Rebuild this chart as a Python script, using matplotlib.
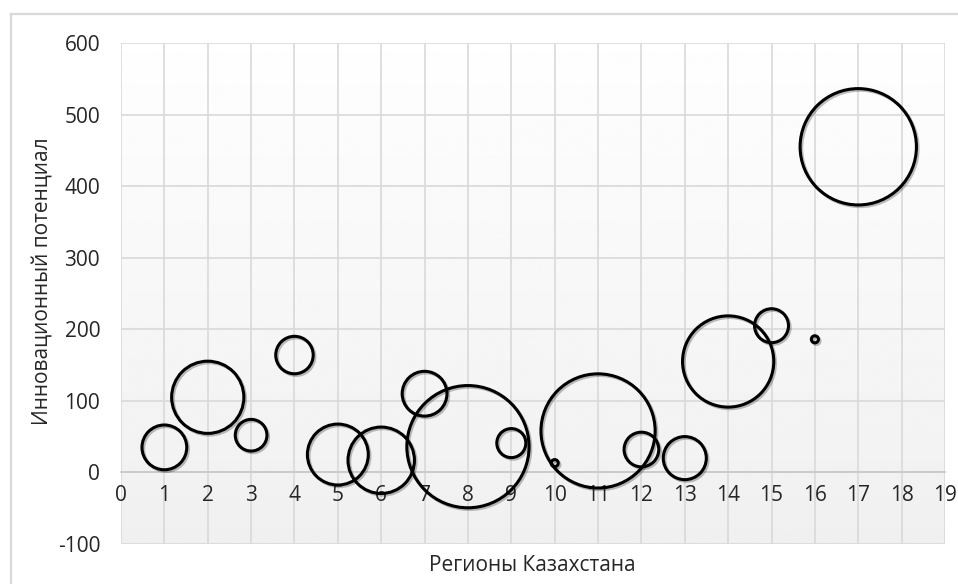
import numpy as np
import matplotlib
matplotlib.use("Agg")
import matplotlib.pyplot as plt
import matplotlib.patheffects as pe
from matplotlib.lines import Line2D

plt.rcParams['font.family'] = ['Open Sans', 'DejaVu Sans']
plt.rcParams['axes.unicode_minus'] = False

# data
regions = [1, 2, 3, 4, 5, 6, 7, 8, 9, 10, 11, 12, 13, 14, 15, 16, 17]
potential = [35, 105, 52, 164, 25, 17, 110, 36, 41, 13, 58, 32, 20, 155, 205, 186, 455]
bubble_size = [20, 52, 10, 14, 37, 44, 20, 149, 8.4, 0.5, 130, 12, 18.5, 83, 11.5, 0.5, 135]

x_ticks = list(range(0, 20))
y_ticks = list(range(-100, 601, 100))
x_label = "Регионы Казахстана"
y_label = "Инновационный потенциал"

grid_color = "#d9d9d9"
text_color = "#262626"
max_diam_pt = 88.0

fig = plt.figure(figsize=(9.58, 5.84), dpi=100)
ax = fig.add_axes([121 / 958, 1 - 544 / 584, 824 / 958, 501 / 584])

# soft vertical gradient in the plot area
grad = np.linspace(0.94, 0.997, 256).reshape(-1, 1)
ax.imshow(grad, extent=[0, 19, -100, 600], origin='lower', cmap='gray',
          vmin=0, vmax=1, aspect='auto', zorder=0)

ax.set_xlim(0, 19)
ax.set_ylim(-100, 600)
ax.set_xticks(x_ticks)
ax.set_yticks(y_ticks)
ax.grid(True, color=grid_color, linewidth=1.2, zorder=1)
ax.set_axisbelow(True)

for side in ['top', 'right', 'left']:
    ax.spines[side].set_visible(False)
ax.spines['bottom'].set_position(('data', 0))
ax.spines['bottom'].set_color("#c8c8c8")
ax.spines['bottom'].set_linewidth(1.2)
ax.spines['bottom'].set_zorder(1)

ax.tick_params(axis='both', length=0, labelsize=15, colors=text_color)
ax.tick_params(axis='x', pad=9)
ax.tick_params(axis='y', pad=15)

sizes = np.array(bubble_size)
s = max_diam_pt ** 2 * sizes / sizes.max()
ax.scatter(regions, potential, s=s, facecolors='none', edgecolors='black',
           linewidths=2.2, zorder=3, clip_on=False,
           path_effects=[pe.SimpleLineShadow(offset=(1.2, -1.2), shadow_color='black', alpha=0.25),
                         pe.Normal()])

ax.set_xlabel(x_label, fontsize=15, color=text_color, va='center')
ax.xaxis.set_label_coords(0.499, -0.042)
ax.set_ylabel(y_label, fontsize=15, color=text_color, va='center')
ax.yaxis.set_label_coords(-0.096, 0.525)

# chart border (left and top visible)
bx = 11 / 958
by = 1 - 14 / 584
fig.add_artist(Line2D([bx, bx], [0, by], transform=fig.transFigure, color=grid_color, linewidth=1.6))
fig.add_artist(Line2D([bx, 1], [by, by], transform=fig.transFigure, color=grid_color, linewidth=1.6))

fig.savefig("out.png", dpi=100)
